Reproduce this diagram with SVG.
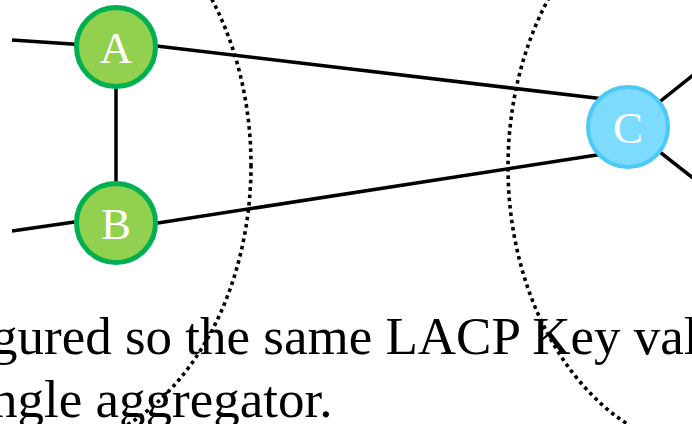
<svg xmlns="http://www.w3.org/2000/svg" width="692" height="424" viewBox="0 0 692 424">
<style>
.edge{stroke:#000;stroke-width:3.5;fill:none}
.arc{stroke:#000;stroke-width:3.6;fill:none;stroke-dasharray:3.6 3.8}
.green{fill:#92D050;stroke:#00B050;stroke-width:5}
.blue{fill:#7CDBFF;stroke:#4DC9F8;stroke-width:4}
.lbl{font-family:"Liberation Serif","Times New Roman",serif;font-size:45px;fill:#fff;text-anchor:middle}
.body{font-family:"Liberation Serif","Times New Roman",serif;font-size:53px;fill:#000}
</style>
<rect width="692" height="424" fill="#fff"/>
<g id="arcs">
<ellipse class="arc" cx="41" cy="165" rx="210" ry="285"/>
<ellipse class="arc" cx="718" cy="167" rx="210" ry="285"/>
</g>
<g id="connectors">
<line class="edge" x1="12" y1="40" x2="116" y2="47"/>
<line class="edge" x1="12" y1="231" x2="116" y2="216"/>
<line class="edge" x1="116" y1="47" x2="116" y2="223"/>
<line class="edge" x1="116" y1="41.3" x2="600" y2="98.5"/>
<line class="edge" x1="116" y1="229.5" x2="600" y2="154.5"/>
<line class="edge" x1="628" y1="127" x2="702" y2="68"/>
<line class="edge" x1="628" y1="127" x2="702" y2="185"/>
</g>
<g id="node-A">
<circle class="green" cx="116" cy="47" r="39.5"/>
<text class="lbl" x="116" y="62.5">A</text>
</g>
<g id="node-B">
<circle class="green" cx="116" cy="223" r="39.5"/>
<text class="lbl" x="116" y="238.5">B</text>
</g>
<g id="node-C">
<circle class="blue" cx="628" cy="127" r="40"/>
<text class="lbl" x="628" y="142.5">C</text>
</g>
<g id="caption">
<text class="body" x="-9" y="354">gured so the same LACP Key val</text>
<text class="body" x="-9" y="417">ngle aggregator.</text>
</g>
</svg>
